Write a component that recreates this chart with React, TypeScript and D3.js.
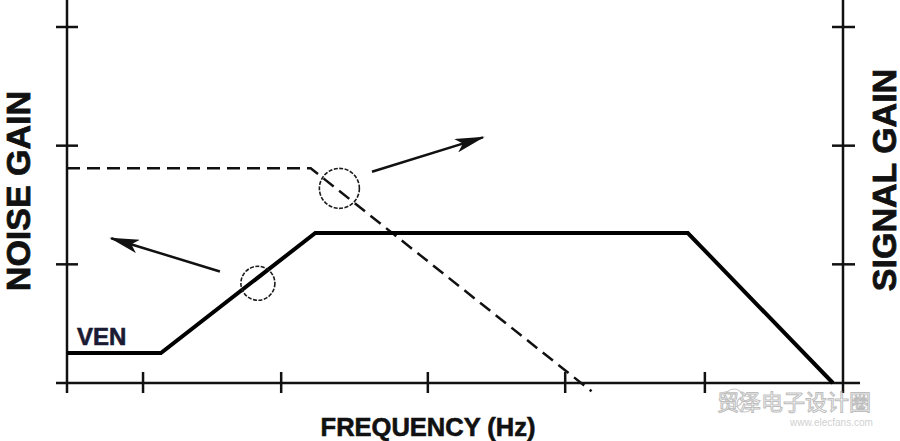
import React from "react";
import * as d3 from "d3";

// ---- data (x: 0..100 frequency units, y: gain units) ----
const xTickValues = [9.8, 27.6, 46.5, 64.2, 82.2];
const yTickValues = [1, 2, 3];
const noiseGainX = [0, 12.1, 32, 80, 98.7];
const noiseGainY = [0.253, 0.253, 1.264, 1.264, 0];
const signalGainX = [0, 31.4, 67.6];
const signalGainY = [1.81, 1.81, -0.07];
const circleX = [24.6, 35.1];
const circleY = [0.84, 1.64];
const circleR = [17, 20];
const arrowFromX = [19.7, 39.3];
const arrowFromY = [0.94, 1.78];
const arrowToX = [5.7, 53.6];
const arrowToY = [1.22, 2.07];
const labels = { left: "NOISE GAIN", right: "SIGNAL GAIN", bottom: "FREQUENCY (Hz)", ven: "VEN" };

const W = 900;
const H = 441;

export default function App() {
  const x = d3.scaleLinear().domain([0, 100]).range([67, 843]);
  const y = d3.scaleLinear().domain([0, 3]).range([383, 27]);
  const line = d3.line<[number, number]>().x((d) => x(d[0])).y((d) => y(d[1]));
  const noise = noiseGainX.map((v, i) => [v, noiseGainY[i]] as [number, number]);
  const signal = signalGainX.map((v, i) => [v, signalGainY[i]] as [number, number]);
  const font = "'Liberation Sans', Arial, sans-serif";
  const axisColor = "#111";

  return (
    <svg
      width={W}
      height={H}
      viewBox={`0 0 ${W} ${H}`}
      style={{ position: "absolute", left: 0, top: 0, background: "#fff" }}
    >
      <defs>
        <marker id="ah" viewBox="0 0 30 14" refX="28" refY="7" markerWidth="30" markerHeight="14" markerUnits="userSpaceOnUse" orient="auto">
          <path d="M0,0 L30,7 L0,14 L7,7 Z" fill="#111" />
        </marker>
      </defs>
      <rect x={0} y={0} width={W} height={H} fill="#fff" />
      {/* axes */}
      <line x1={x(0)} x2={x(0)} y1={0} y2={393} stroke={axisColor} strokeWidth={2.5} />
      <line x1={x(100)} x2={x(100)} y1={0} y2={393} stroke={axisColor} strokeWidth={2.5} />
      <line x1={56} x2={860} y1={y(0)} y2={y(0)} stroke={axisColor} strokeWidth={2.5} />
      {yTickValues.map((t) => (
        <g key={"yt" + t}>
          <line x1={56} x2={78} y1={y(t)} y2={y(t)} stroke={axisColor} strokeWidth={2.5} />
          <line x1={832} x2={855} y1={y(t)} y2={y(t)} stroke={axisColor} strokeWidth={2.5} />
        </g>
      ))}
      {xTickValues.map((t) => (
        <line key={"xt" + t} x1={x(t)} x2={x(t)} y1={372} y2={393} stroke={axisColor} strokeWidth={2.5} />
      ))}
      {/* signal gain dashed */}
      <path d={line(signal) || ""} fill="none" stroke="#111" strokeWidth={2.5} strokeDasharray="13 7" />
      {/* noise gain solid */}
      <path d={line(noise) || ""} fill="none" stroke="#000" strokeWidth={4} strokeLinejoin="miter" />
      {/* circles */}
      {circleX.map((cx, i) => (
        <circle key={"c" + i} cx={x(cx)} cy={y(circleY[i])} r={circleR[i]} fill="none" stroke="#1a1a1a" strokeWidth={1.6} strokeDasharray="4 1.5" />
      ))}
      {/* arrows */}
      {arrowFromX.map((fx, i) => (
        <line
          key={"a" + i}
          x1={x(fx)}
          y1={y(arrowFromY[i])}
          x2={x(arrowToX[i])}
          y2={y(arrowToY[i])}
          stroke="#111"
          strokeWidth={2.5}
          markerEnd="url(#ah)"
        />
      ))}
      {/* labels */}
      <text x={77} y={345} fontFamily={font} fontWeight="bold" fontSize={24} fill="#1a1a33" stroke="#1a1a33" strokeWidth={0.6}>
        {labels.ven}
      </text>
      <text
        transform={`translate(30,191) rotate(-90)`}
        textAnchor="middle"
        fontFamily={font}
        fontWeight="bold"
        fontSize={34}
        fill="#111"
        stroke="#111"
        strokeWidth={0.8}
      >
        {labels.left}
      </text>
      <text
        transform={`translate(896,180) rotate(-90)`}
        textAnchor="middle"
        fontFamily={font}
        fontWeight="bold"
        fontSize={34}
        fill="#111"
        stroke="#111"
        strokeWidth={0.8}
      >
        {labels.right}
      </text>
      <text x={428} y={436} textAnchor="middle" fontFamily={font} fontWeight="bold" fontSize={25.5} fill="#111" stroke="#111" strokeWidth={0.6}>
        {labels.bottom}
      </text>
      {/* watermark */}
      <g opacity={0.55}>
        <circle cx={734} cy={398} r={9} fill="none" stroke="#999" strokeWidth={1.2} />
        <circle cx={745} cy={404} r={8} fill="none" stroke="#999" strokeWidth={1.2} />
        <text x={717} y={410} fontFamily="'Noto Sans CJK SC', sans-serif" fontSize={22} fill="#fff" stroke="#888" strokeWidth={1}>
          {"贸泽电子设计圈"}
        </text>
        <text x={790} y={426} fontFamily={font} fontSize={10} fill="#aaa">
          {"www.elecfans.com"}
        </text>
      </g>
    </svg>
  );
}
